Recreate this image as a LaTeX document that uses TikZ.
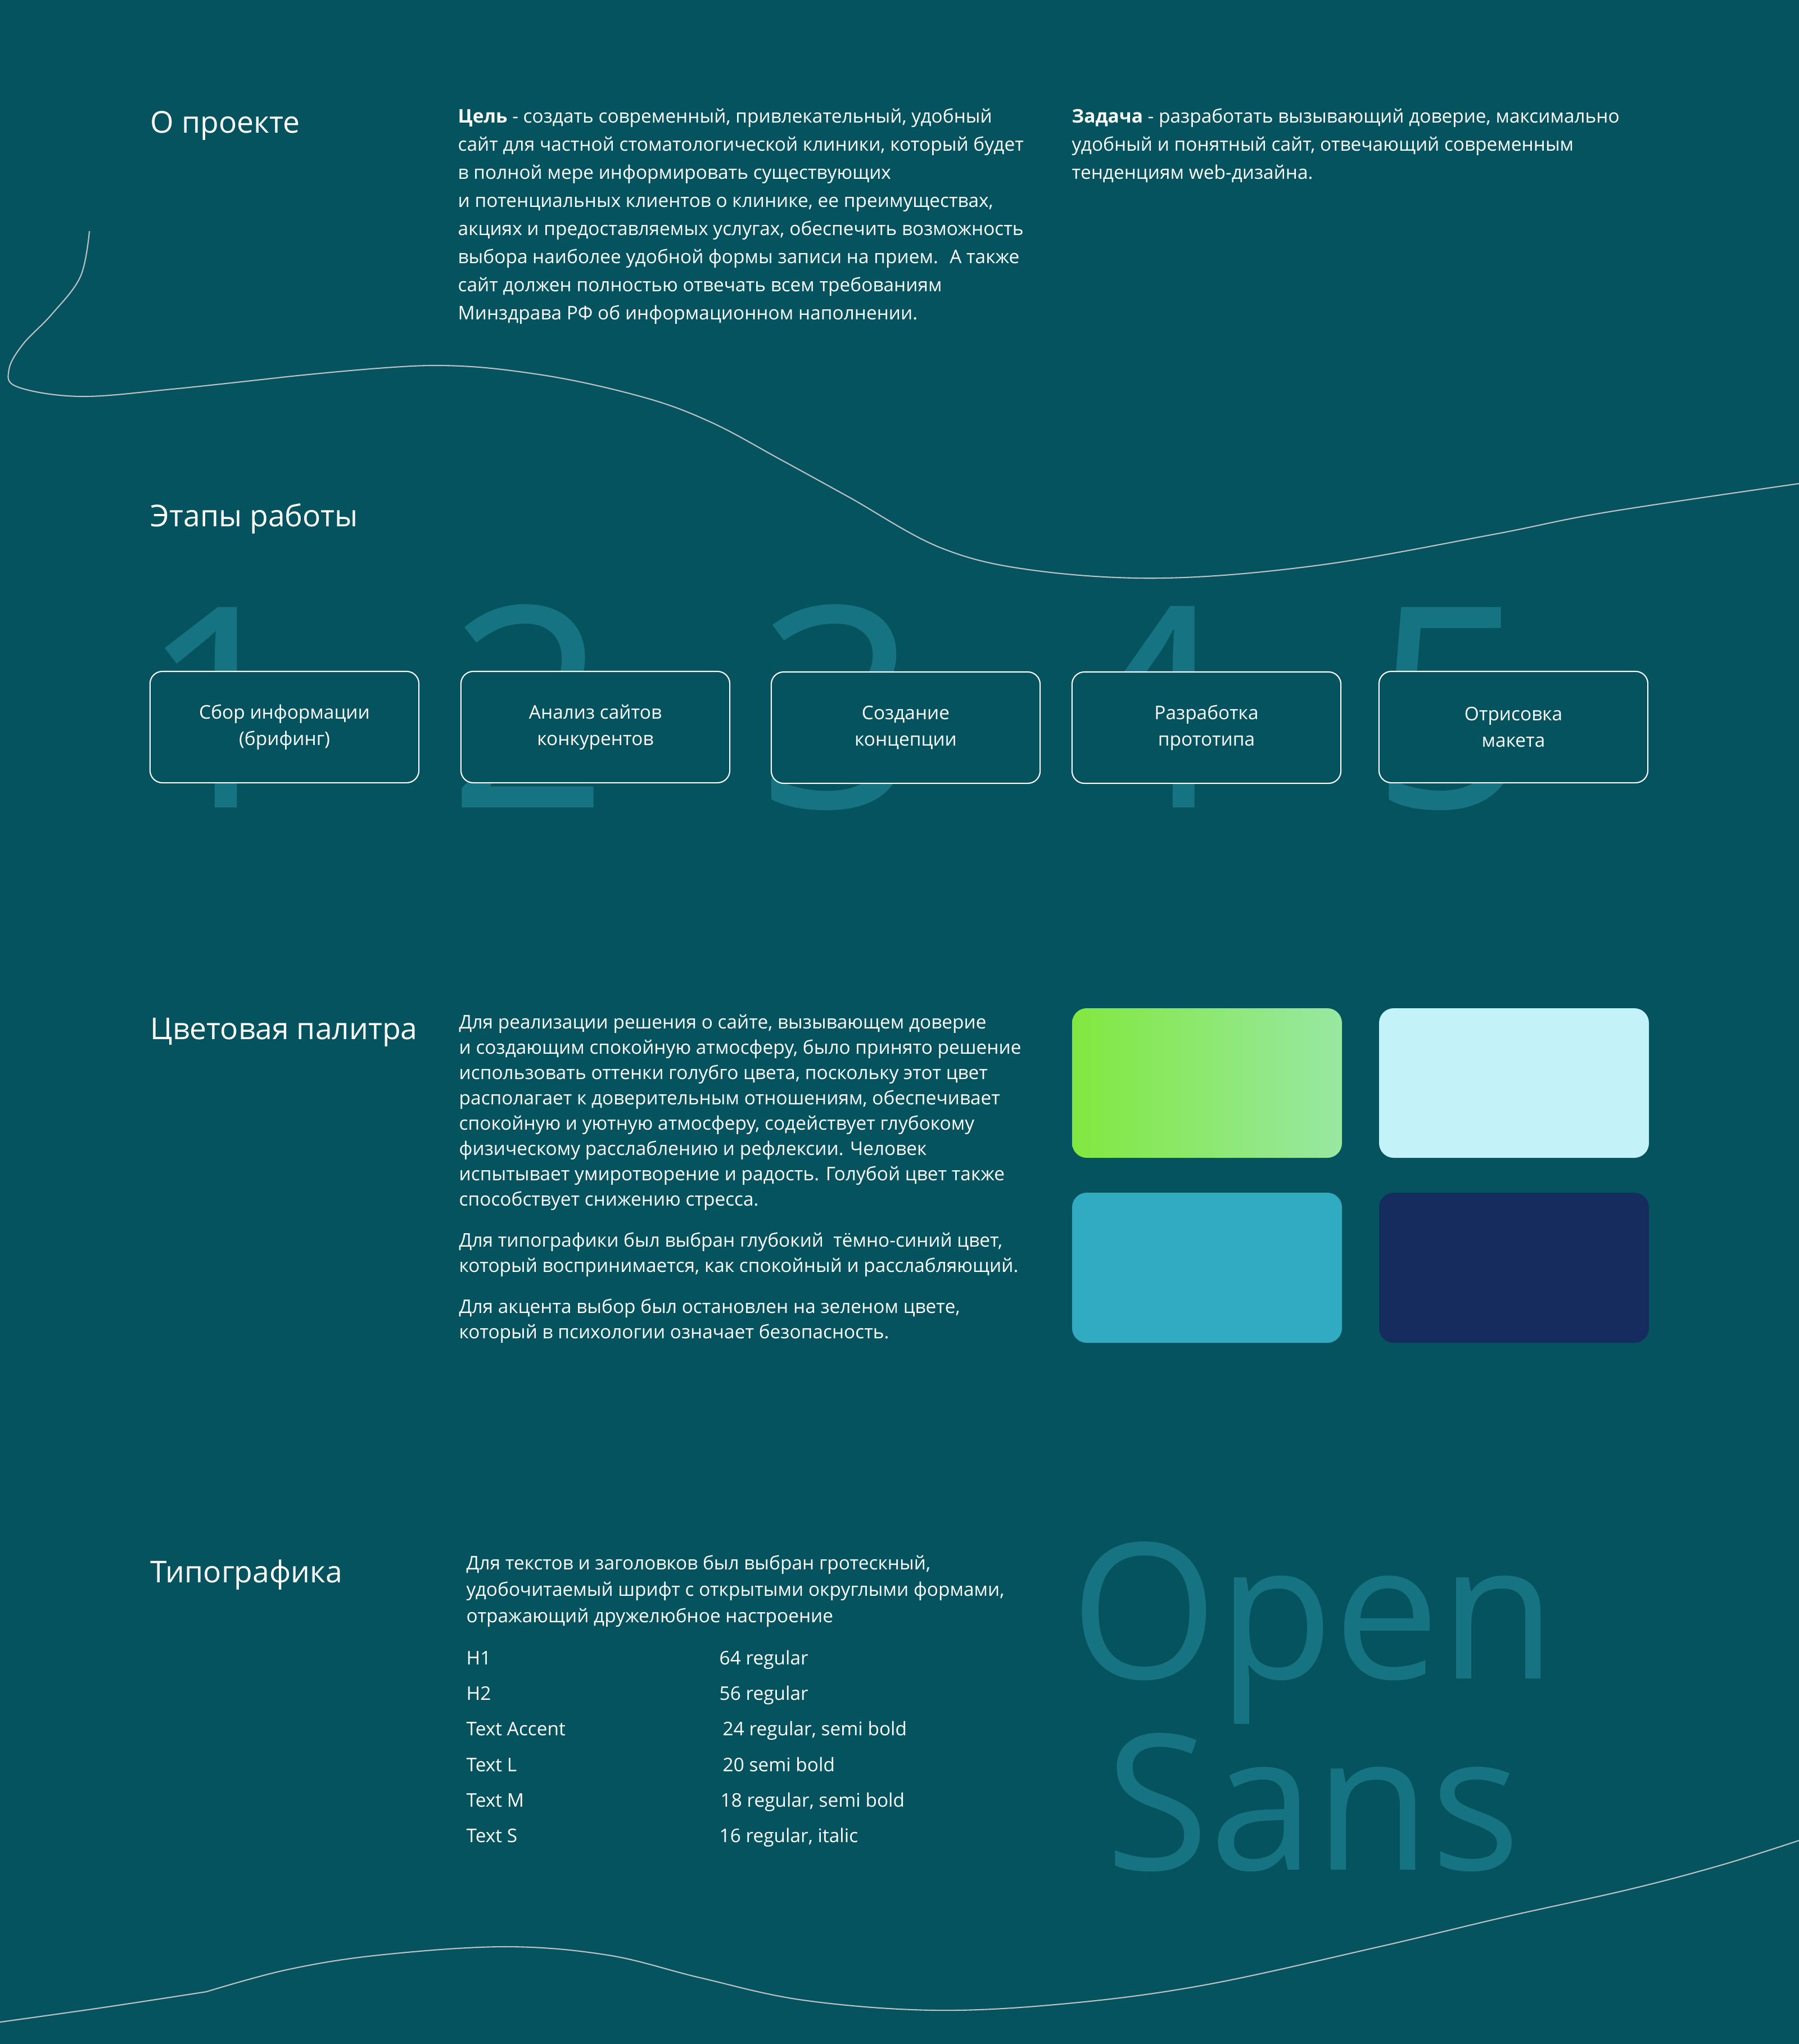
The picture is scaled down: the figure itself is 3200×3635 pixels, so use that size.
\documentclass[tikz,border=0pt]{standalone}
\usepackage{fontspec}
\setmainfont{Open Sans}
\definecolor{pagebg}{RGB}{4,83,95}
\definecolor{numteal}{RGB}{22,116,130}
\definecolor{waveline}{RGB}{190,196,198}
\definecolor{accentgreen}{RGB}{130,232,64}
\definecolor{accentmint}{RGB}{152,232,162}
\definecolor{skyblue}{RGB}{195,243,249}
\definecolor{seablue}{RGB}{48,171,194}
\definecolor{deepnavy}{RGB}{22,44,95}

\begin{document}
\begin{tikzpicture}[x=0.01cm, y=-0.01cm,
  heading/.style={anchor=base west, inner sep=0pt, text=white, font=\fontsize{15.2}{18}\selectfont},
  bodytext/.style={anchor=base west, inner sep=0pt, text=white},
  bignum/.style={anchor=base, inner sep=0pt, text=numteal, font=\fontsize{142}{142}\selectfont},
  stagebox/.style={draw=white, line width=0.6pt, fill=pagebg, rounded corners=0.22cm,
    minimum width=4.78cm, minimum height=1.98cm, align=center, text=white,
    font=\fontsize{9.5}{13.4}\selectfont},
  rowtext/.style={anchor=base west, inner sep=0pt, text=white, font=\fontsize{9.5}{11}\selectfont},
  wave/.style={draw=waveline, line width=0.6pt}
]
% Page
\fill[pagebg] (0,0) rectangle (3200,3635);
\useasboundingbox (0,0) rectangle (3200,3635);

% Waves
\draw[wave] plot[smooth, tension=0.6] coordinates {(159,411) (143,492) (92,559) (41,612) (16,657)
  (31,688) (143,705) (306,692) (510,670)};
\draw[wave] plot[smooth, tension=0.6] coordinates {(510,670) (765,650) (959,666) (1143,706)
  (1265,751) (1388,817) (1510,884) (1673,974) (1837,1014) (2071,1028) (2347,1005) (2653,951)
  (2857,911) (3200,860)};
\draw[wave] plot[smooth, tension=0.6] coordinates {(0,3596) (184,3570) (367,3542)};
\draw[wave] plot[smooth, tension=0.6] coordinates {(367,3542) (510,3503) (673,3477) (898,3462)
  (1082,3477) (1245,3517) (1429,3557) (1663,3575) (1898,3563) (2143,3530) (2449,3463)
  (2673,3410) (2898,3360) (3061,3317) (3200,3273)};

% About
\node[heading] (about) at (267,236) {О проекте};
\node[bodytext] (goal) at (814,218) {
\begin{minipage}[t]{11.5cm}
\fontsize{9.5}{14.22}\selectfont
\textbf{Цель} - создать современный, привлекательный, удобный\\
сайт для частной стоматологической клиники, который будет\\
в полной мере информировать существующих\\
и потенциальных клиентов о клинике, ее преимуществах,\\
акциях и предоставляемых услугах, обеспечить возможность\\
выбора наиболее удобной формы записи на прием.~ А также\\
сайт должен полностью отвечать всем требованиям\\
Минздрава РФ об информационном наполнении.
\end{minipage}
};
\node[bodytext] (task) at (1906,218) {
\begin{minipage}[t]{11.5cm}
\fontsize{9.5}{14.22}\selectfont
\textbf{Задача} - разработать вызывающий доверие, максимально\\
удобный и понятный сайт, отвечающий современным\\
тенденциям web-дизайна.
\end{minipage}
};

% Stages
\node[heading] (stages) at (267,936) {Этапы работы};
\node[bignum] (n1) at (390,1436) {1};
\node[bignum] (n2) at (940,1436) {2};
\node[bignum] (n3) at (1492,1436) {3};
\node[bignum] (n4) at (2045,1436) {4};
\node[bignum] (n5) at (2581,1436) {5};
\node[stagebox] (s1) at (506,1293) {Сбор информации\\(брифинг)};
\node[stagebox] (s2) at (1059,1293) {Анализ сайтов\\конкурентов};
\node[stagebox] (s3) at (1611,1294) {Создание\\концепции};
\node[stagebox] (s4) at (2146,1294) {Разработка\\прототипа};
\node[stagebox] (s5) at (2692,1293) {Отрисовка\\макета};

% Palette
\node[heading] (palette) at (267,1848) {Цветовая палитра};
\node[bodytext] (paltext) at (816,1829) {
\begin{minipage}[t]{11.5cm}
\fontsize{9.5}{12.8}\selectfont
Для реализации решения о сайте, вызывающем доверие\\
и создающим спокойную атмосферу, было принято решение\\
использовать оттенки голубго цвета, поскольку этот цвет\\
располагает к доверительным отношениям, обеспечивает\\
спокойную и уютную атмосферу, содействует глубокому\\
физическому расслаблению и рефлексии. Человек\\
испытывает умиротворение и радость. Голубой цвет также\\
способствует снижению стресса.\\[8pt]
Для типографики был выбран глубокий~ тёмно-синий цвет,\\
который воспринимается, как спокойный и расслабляющий.\\[8pt]
Для акцента выбор был остановлен на зеленом цвете,\\
который в психологии означает безопасность.
\end{minipage}
};
\shade[left color=accentgreen, right color=accentmint, rounded corners=0.26cm] (1907,1793) rectangle (2387,2059);
\fill[skyblue, rounded corners=0.26cm] (2453,1793) rectangle (2933,2059);
\fill[seablue, rounded corners=0.26cm] (1907,2121) rectangle (2387,2388);
\fill[deepnavy, rounded corners=0.26cm] (2453,2121) rectangle (2933,2388);

% Typography
\node[heading] (typo) at (267,2814) {Типографика};
\node[bodytext] (typotext) at (829,2791) {
\begin{minipage}[t]{11.5cm}
\fontsize{9.5}{13.37}\selectfont
Для текстов и заголовков был выбран гротескный,\\
удобочитаемый шрифт с открытыми округлыми формами,\\
отражающий дружелюбное настроение
\end{minipage}
};
\node[rowtext] (h1) at (829,2960) {H1};
\node[rowtext] (h1v) at (1279,2960) {64 regular};
\node[rowtext] (h2) at (829,3023) {H2};
\node[rowtext] (h2v) at (1279,3023) {56 regular};
\node[rowtext] (ta) at (829,3086) {Text Accent};
\node[rowtext] (tav) at (1285,3086) {24 regular, semi bold};
\node[rowtext] (tl) at (829,3150) {Text L};
\node[rowtext] (tlv) at (1285,3150) {20 semi bold};
\node[rowtext] (tm) at (829,3213) {Text M};
\node[rowtext] (tmv) at (1281,3213) {18 regular, semi bold};
\node[rowtext] (ts) at (829,3276) {Text S};
\node[rowtext] (tsv) at (1279,3276) {16 regular, italic};
\node[anchor=base, inner sep=0pt, text=numteal, font=\fontsize{95.6}{96}\selectfont] (open) at (2336,2985) {Open};
\node[anchor=base, inner sep=0pt, text=numteal, font=\fontsize{95.6}{96}\selectfont] (sans) at (2336,3325) {Sans};
\end{tikzpicture}
\end{document}
